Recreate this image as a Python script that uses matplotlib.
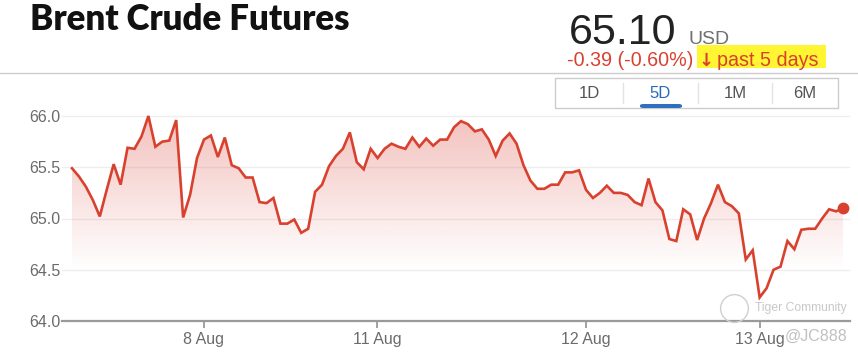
import numpy as np
import matplotlib.pyplot as plt
from matplotlib.patches import Rectangle, FancyBboxPatch

# Brent crude, 5 day chart
prices = [
    65.49, 65.41, 65.31, 65.18, 65.02, 65.28, 65.53, 65.33, 65.69, 65.68,
    65.80, 66.00, 65.70, 65.75, 65.76, 65.96, 65.01, 65.23, 65.59, 65.77,
    65.81, 65.60, 65.79, 65.52, 65.49, 65.40, 65.40, 65.16, 65.15, 65.20,
    64.95, 64.95, 64.99, 64.86, 64.90, 65.26, 65.33, 65.51, 65.61, 65.68,
    65.84, 65.55, 65.48, 65.68, 65.59, 65.68, 65.73, 65.70, 65.68, 65.79,
    65.70, 65.78, 65.71, 65.77, 65.77, 65.89, 65.95, 65.92, 65.85, 65.87,
    65.77, 65.61, 65.76, 65.83, 65.73, 65.52, 65.37, 65.29, 65.29, 65.33,
    65.33, 65.45, 65.45, 65.47, 65.28, 65.20, 65.25, 65.32, 65.25, 65.25,
    65.23, 65.16, 65.13, 65.39, 65.16, 65.08, 64.80, 64.78, 65.09, 65.04,
    64.79, 65.00, 65.15, 65.33, 65.16, 65.12, 65.05, 64.60, 64.69, 64.23,
    64.32, 64.50, 64.53, 64.78, 64.70, 64.89, 64.90, 64.90, 65.00, 65.09,
    65.07, 65.10,
]
tick_labels = ['8 Aug', '11 Aug', '12 Aug', '13 Aug']
tick_frac = [0.171, 0.396, 0.667, 0.892]   # share of the time span
y_ticks = [64.0, 64.5, 65.0, 65.5, 66.0]
ranges = ['1D', '5D', '1M', '6M']

W, H = 858, 356
RED = '#d9412f'

fig = plt.figure(figsize=(W / 100, H / 100), dpi=100)
plt.rcParams['font.family'] = ['Liberation Sans', 'DejaVu Sans']


def fx(px):
    return px / W


def fy(py):
    return 1 - py / H


x = np.arange(len(prices))
y = np.array(prices)
n = len(prices)
step = (843 - 72) / (n - 1)

# axes: left 62px .. right 850px, y 64.0 at 321px, 66.1 at ~105.75px
ax = fig.add_axes([fx(62), fy(321), (850 - 62) / W, (321 - 105.75) / H])
ax.set_xlim(-(72 - 62) / step, (n - 1) + (850 - 843) / step)
ax.set_ylim(64.0, 66.1)

# gradient fill under the line
poly = ax.fill_between(x, y, 64.5, color='none', lw=0)
grad = np.zeros((200, 2, 4))
grad[..., 0] = 0.85
grad[..., 1] = 0.25
grad[..., 2] = 0.2
alpha = np.linspace(0.0, 0.32, 200)[:, None]
grad[..., 3] = alpha
img = ax.imshow(grad, extent=[0, n - 1, 64.5, 66.0], origin='lower',
                aspect='auto', zorder=1)
path = poly.get_paths()[0]
img.set_clip_path(path, transform=ax.transData)

ax.plot(x, y, color=RED, lw=1.9, zorder=3, solid_joinstyle='miter')
ax.plot(x[-1], y[-1], 'o', color=RED, ms=7.5, zorder=4)

for v in y_ticks[1:]:
    ax.axhline(v, color='#eeeeee', lw=1, zorder=0)

for s in ['top', 'right', 'left']:
    ax.spines[s].set_visible(False)
ax.spines['bottom'].set_color('#9a9a9a')
ax.spines['bottom'].set_linewidth(1.6)

ax.set_yticks(y_ticks)
ax.set_yticklabels(['%.1f' % v for v in y_ticks])
ax.tick_params(axis='y', length=0, pad=1, labelsize=11.5, labelcolor='#6b6b6b')
ax.set_xticks([f * (n - 1) for f in tick_frac])
ax.set_xticklabels(tick_labels)
ax.tick_params(axis='x', length=5, width=1.3, color='#9a9a9a', pad=3,
               labelsize=11.5, labelcolor='#6b6b6b')

# header
fig.text(fx(30), fy(20), 'Brent Crude Futures', fontsize=25, fontweight='heavy',
         color='#111111', va='center', ha='left', family=['Lato', 'DejaVu Sans'])
fig.add_artist(plt.Line2D([0, 1], [fy(73), fy(73)], color='#cccccc', lw=1,
                          transform=fig.transFigure))

fig.text(fx(569), fy(44), '65.10', fontsize=31, color='#222222', va='baseline')
fig.text(fx(688), fy(44), 'USD', fontsize=14, color='#707070', va='baseline')
fig.text(fx(567), fy(66), '-0.39 (-0.60%)', fontsize=14.2, color=RED,
         va='baseline')
fig.add_artist(Rectangle((fx(697), fy(68)), (826 - 697) / W, 23 / H,
                         transform=fig.transFigure, color='#fff533', lw=0,
                         zorder=0))
fig.text(fx(699), fy(66), '\u2193', fontsize=13, color=RED, va='baseline',
         fontweight='bold', family=['DejaVu Sans'])
fig.text(fx(717), fy(66), 'past 5 days', fontsize=14.2, color=RED,
         va='baseline')

# range buttons
fig.add_artist(Rectangle((fx(555), fy(108)), (838 - 555) / W, 30 / H,
                         transform=fig.transFigure, fill=False,
                         ec='#cccccc', lw=1))
edges = [555, 623, 698, 772, 838]
for i, lab in enumerate(ranges):
    cx = (edges[i] + edges[i + 1]) / 2
    if i > 0:
        fig.add_artist(plt.Line2D([fx(edges[i]), fx(edges[i])],
                                  [fy(103), fy(83)], color='#e3e3e3', lw=1,
                                  transform=fig.transFigure))
    col = '#2a6bbf' if lab == '5D' else '#555555'
    fig.text(fx(cx), fy(93), lab, fontsize=12, color=col, ha='center',
             va='center')
fig.add_artist(FancyBboxPatch((fx(640), fy(108)), 42 / W, 4 / H,
                              boxstyle='round,pad=0,rounding_size=0.004',
                              transform=fig.transFigure, color='#2f6fc0',
                              lw=0))

# watermark
fig.add_artist(plt.Line2D([fx(734)], [fy(308)], marker='o', ms=20,
                          mfc='none', mec='#d0d0d0', mew=1,
                          transform=fig.transFigure))
fig.text(fx(755), fy(308), 'Tiger Community', fontsize=8.7, color='#c8c8c8',
         va='center')
fig.text(fx(785), fy(336), '@JC888', fontsize=11.5, color='#c0c0c0',
         va='center')

fig.savefig('out.png', dpi=100)
